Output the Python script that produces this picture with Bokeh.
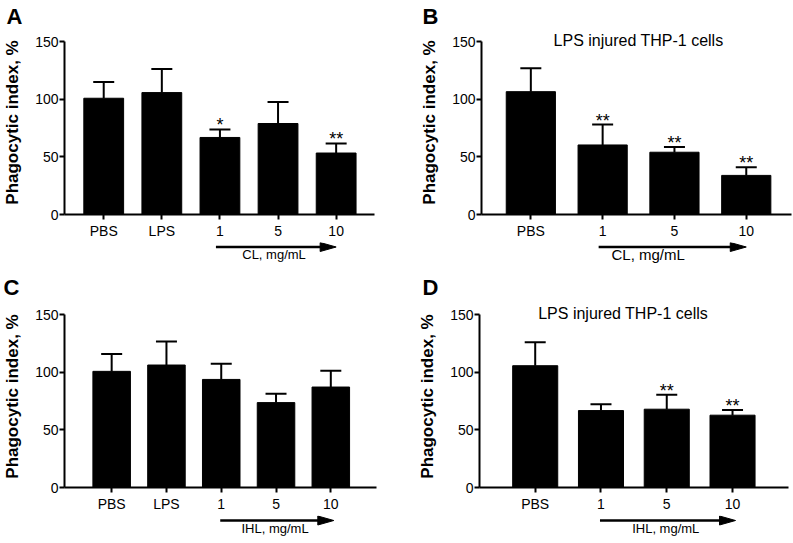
from bokeh.plotting import figure
from bokeh.models import Range1d, FixedTicker, Whisker, TeeHead, Label, ColumnDataSource
from bokeh.layouts import row, column
from bokeh.embed import file_html
from bokeh.resources import INLINE
from bokeh.core.properties import value

FONT = "Liberation Sans"

# ---------------- data ----------------
y_ticks = [0, 50, 100, 150]
y_label = "Phagocytic index, %"
panel_title = "LPS injured THP-1 cells"

# Panel A (CL)
a_labels = ["PBS", "LPS", "1", "5", "10"]
a_values = [100.8, 105.7, 66.8, 78.9, 53.3]
a_errors = [114.9, 126.1, 73.7, 97.6, 61.6]      # upper end of error bar
a_stars = ["", "", "*", "", "**"]

# Panel B (CL, LPS injured)
b_labels = ["PBS", "1", "5", "10"]
b_values = [106.5, 60.3, 54.0, 33.9]
b_errors = [126.8, 78.0, 58.6, 40.9]
b_stars = ["", "**", "**", "**"]

# Panel C (IHL)
c_labels = ["PBS", "LPS", "1", "5", "10"]
c_values = [100.7, 106.2, 93.7, 73.6, 87.1]
c_errors = [115.7, 126.6, 107.3, 81.3, 101.2]
c_stars = ["", "", "", "", ""]

# Panel D (IHL, LPS injured)
d_labels = ["PBS", "1", "5", "10"]
d_values = [105.6, 66.7, 67.9, 62.7]
d_errors = [125.9, 72.2, 80.4, 67.3]
d_stars = ["", "", "**", "**"]

TOTAL_W = 792


def blank(width, height, x_range, y_range, L=0, R=0):
    f = figure(frame_width=width, frame_height=height, x_range=x_range, y_range=y_range,
               x_axis_location=None, y_axis_location=None, title=None,
               output_backend="svg", toolbar_location=None,
               min_border_left=L, min_border_right=R, min_border_top=0, min_border_bottom=0)
    f.outline_line_color = None
    f.grid.visible = False
    f.background_fill_color = "white"
    f.border_fill_color = "white"
    return f


def letter_strip(height, letters):
    s = blank(TOTAL_W, height, Range1d(0, TOTAL_W), Range1d(height, 0))
    for txt, x, y in letters:
        s.add_layout(Label(x=x, y=y, text=txt, text_align="left", text_baseline="alphabetic",
                           text_font=FONT, text_font_style="bold", text_font_size="22px",
                           text_color="black"))
    return s


def make_panel(labels, values, errors, stars, dose_name, title, lay):
    n = len(labels)
    xs = list(range(1, n + 1))
    L, R = lay["L"], lay["R"]
    fw, fh, ext = lay["fw"], lay["fh"], lay["ext"]
    ppu = fh / 150.0
    y_top = 150 + ext / ppu
    xr = Range1d(lay["x0"], lay["x1"])

    p = figure(frame_width=fw, frame_height=fh + ext, x_range=xr,
               y_range=Range1d(0, y_top), output_backend="svg", toolbar_location=None,
               title=None, min_border_left=L, min_border_right=R,
               min_border_top=0, min_border_bottom=lay["bottom"])
    p.outline_line_color = None
    p.grid.visible = False
    p.background_fill_color = "white"
    p.border_fill_color = "white"

    star_y = [e + 6 / ppu for e in errors]
    src = ColumnDataSource(dict(x=xs, top=values, err=errors, star=stars, sy=star_y))
    p.vbar(x="x", top="top", bottom=0, width=0.685, source=src,
           fill_color="black", line_color="black")
    p.add_layout(Whisker(base="x", lower="top", upper="err", source=src,
                         dimension="height", line_color="black", line_width=2,
                         lower_head=None,
                         upper_head=TeeHead(size=21, line_width=2, line_color="black")))
    p.text(x="x", y="sy", text="star", source=src, text_align="center",
           text_baseline="alphabetic", text_font=value(FONT),
           text_font_size="18px", text_color="black", y_offset=2)

    # axes
    for ax in (p.xaxis[0], p.yaxis[0]):
        ax.axis_line_width = 2
        ax.axis_line_color = "black"
        ax.major_tick_line_width = 2
        ax.major_tick_line_color = "black"
        ax.major_tick_out = 5
        ax.major_tick_in = 0
        ax.minor_tick_out = 0
        ax.minor_tick_in = 0
        ax.major_label_text_font = FONT
        ax.major_label_text_font_size = "14px"
        ax.major_label_text_color = "black"
    p.xaxis.ticker = FixedTicker(ticks=xs)
    p.xaxis.major_label_overrides = {x: l for x, l in zip(xs, labels)}
    p.xaxis.major_label_standoff = 3
    p.yaxis.ticker = FixedTicker(ticks=y_ticks)
    p.yaxis.bounds = (0, 150)
    p.yaxis.major_label_standoff = 1
    p.yaxis.axis_label = y_label
    p.yaxis.axis_label_text_font = FONT
    p.yaxis.axis_label_text_font_style = "bold"
    p.yaxis.axis_label_text_font_size = "17px"
    p.yaxis.axis_label_text_color = "black"
    p.yaxis.axis_label_standoff = 10

    if title:
        p.add_layout(Label(x=lay["tx"], y=150, y_offset=1, text=title,
                           text_align="center", text_baseline="alphabetic",
                           text_font=FONT, text_font_size="16px", text_color="black"))

    # strip below the axis: dose arrow + dose label, same x scale (y = px from strip top)
    ah = lay["aux"]
    a = blank(fw, ah, xr, Range1d(ah, 0), L, R)
    ppx = fw / (lay["x1"] - lay["x0"])
    ya = lay["ady"]
    d0 = labels.index("1") + 1
    tip = n + 4 / ppx
    hl = 16 / ppx
    a.segment(x0=[d0], y0=[ya], x1=[tip - hl * 0.7], y1=[ya], line_width=2.5, line_color="black")
    a.patch(x=[tip - hl, tip, tip - hl], y=[ya - 4.5, ya, ya + 4.5],
            fill_color="black", line_color="black", line_width=1)
    a.add_layout(Label(x=lay["dx"], y=lay["ddy"], text=dose_name,
                       text_align="center", text_baseline="alphabetic",
                       text_font=FONT, text_font_size=lay["dfs"], text_color="black"))
    return p, a


lay_a = dict(L=60, fw=310, R=30, fh=173, ext=11, bottom=28, aux=28,
             x0=0.325, x1=5.66, dx=4.0, dfs="13px", tx=None, ady=4.5, ddy=12)
lay_b = dict(L=77, fw=310, R=5, fh=173, ext=11, bottom=28, aux=28,
             x0=0.313, x1=4.63, dx=2.69, dfs="15px", tx=2.5, ady=4.5, ddy=12)
lay_c = dict(L=63, fw=312, R=25, fh=173, ext=9, bottom=28, aux=25,
             x0=0.139, x1=5.834, dx=4.0, dfs="13px", tx=None, ady=5, ddy=13)
lay_d = dict(L=78, fw=309, R=5, fh=173, ext=9, bottom=28, aux=25,
             x0=0.153, x1=4.851, dx=3.0, dfs="13px", tx=2.337, ady=5, ddy=13)

pa, aa = make_panel(a_labels, a_values, a_errors, a_stars, "CL, mg/mL", None, lay_a)
pb, ab = make_panel(b_labels, b_values, b_errors, b_stars, "CL, mg/mL", panel_title, lay_b)
pc, ac = make_panel(c_labels, c_values, c_errors, c_stars, "IHL, mg/mL", None, lay_c)
pd_, ad = make_panel(d_labels, d_values, d_errors, d_stars, "IHL, mg/mL", panel_title, lay_d)

top_strip = letter_strip(30, [("A", 6, 16), ("B", 422, 16)])
mid_strip = letter_strip(35, [("C", 3, 17), ("D", 422, 17)])

layout = column(top_strip, row(pa, pb), row(aa, ab),
                mid_strip, row(pc, pd_), row(ac, ad))
open("out.html", "w").write(file_html(layout, INLINE))
